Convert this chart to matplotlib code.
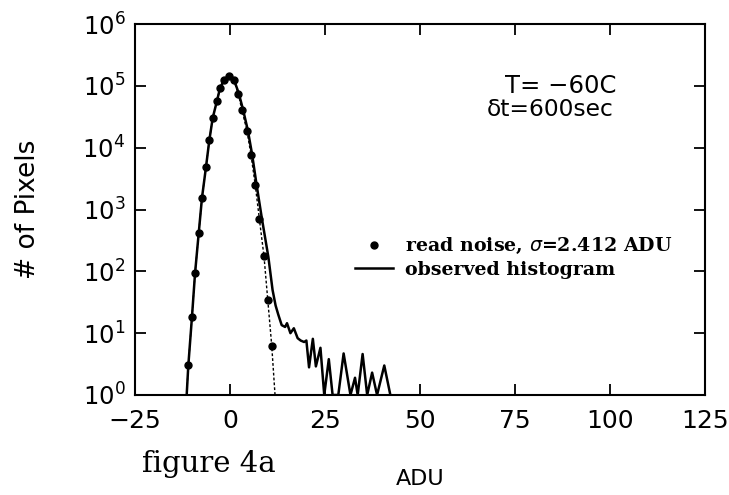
import numpy as np
import matplotlib.pyplot as plt
from matplotlib.ticker import LogLocator, NullLocator, FixedLocator

# read-noise points (gaussian, sigma = 2.412 ADU)
noise_adu = [-10.97, -10.0, -9.2, -8.23, -7.37, -6.31, -5.44, -4.55, -3.42, -2.6, -1.5,
             -0.34, 0.98, 2.19, 3.16, 4.48, 5.53, 6.66, 7.72, 8.95, 9.93, 10.98]
noise_counts = [3.0, 18.6, 93, 417, 1550, 4900, 13200, 30200, 57500, 93000, 126000,
                145000, 126000, 74000, 40000, 18600, 7600, 2450, 710, 174, 35, 6.3]
# where the dashed fit line meets the bottom of the plot
fit_end_adu = [-11.4, 11.85]
fit_end_counts = [1.0, 1.0]

# observed histogram
hist_adu = [-11.4, -10.97, -10.0, -9.2, -8.23, -7.37, -6.31, -5.44, -4.55, -3.42, -2.6,
            -1.5, -0.34, 0.98, 2.3, 3.4, 4.7, 5.8, 7.0, 8.4, 10.1, 11.2, 12.0, 12.7,
            13.6, 14.5, 15.0, 15.9, 16.8, 17.8, 18.6, 19.5, 20.1, 20.8, 21.8, 22.6,
            23.8, 24.8, 26.0, 27.0, 28.5, 29.9, 31.7, 32.9, 33.6, 34.9, 36.1, 37.4,
            38.7, 40.6, 42.2]
hist_counts = [1, 3.0, 18.6, 93, 417, 1550, 4900, 13200, 30200, 57500, 93000,
               126000, 145000, 129000, 76000, 42000, 19000, 7900, 2500, 710, 170, 50, 28, 20,
               13.5, 12.6, 14.5, 10, 12, 8.3, 7.6, 7.2, 7.6, 2.8, 8.1, 2.9,
               5.8, 1, 3.8, 1, 1, 4.7, 1, 1.9, 1, 4.6, 1, 2.3,
               1, 3.0, 1]

x_ticks = [-25, 0, 25, 50, 75, 100, 125]

fig = plt.figure(figsize=(7.29, 4.95), dpi=100)
ax = fig.add_axes([135 / 729, 1 - 395 / 495, 570 / 729, 371 / 495])

fit_x = [fit_end_adu[0]] + noise_adu + [fit_end_adu[1]]
fit_y = [fit_end_counts[0]] + noise_counts + [fit_end_counts[1]]
ax.plot(fit_x, fit_y, color='black', lw=1.0, linestyle=(0, (2.0, 1.5)), zorder=2)
ax.plot(hist_adu, hist_counts, color='black', lw=1.8, zorder=3,
        label='observed histogram')
ax.plot(noise_adu, noise_counts, 'o', color='black', markersize=5, zorder=4,
        label=r'read noise, $\sigma$=2.412 ADU')

ax.set_yscale('log')
ax.set_xlim(-25, 125)
ax.set_ylim(1, 1e6)
ax.xaxis.set_major_locator(FixedLocator(x_ticks))
ax.yaxis.set_major_locator(LogLocator(base=10, numticks=10))
ax.yaxis.set_minor_locator(NullLocator())

for s in ax.spines.values():
    s.set_linewidth(1.5)
ax.tick_params(which='major', direction='in', top=True, right=True,
               length=8, width=1.3, labelsize=17.5)
ax.tick_params(axis='x', pad=10, labelsize=18)
ax.tick_params(axis='y', pad=7)

ax.set_ylabel('# of Pixels', fontsize=19)
ax.yaxis.set_label_coords(-0.165, 0.5)
ax.set_xlabel('ADU', fontsize=16, labelpad=26)

ax.text((561 - 135) / 570, (395 - 86) / 371, 'T= −60C', transform=ax.transAxes,
        fontsize=17.5, ha='center', va='center')
ax.text((550 - 135) / 570, (395 - 109) / 371, 'δt=600sec', transform=ax.transAxes,
        fontsize=16.8, ha='center', va='center')

handles, labels = ax.get_legend_handles_labels()
ax.legend(handles[::-1], labels[::-1], loc='center left',
          bbox_to_anchor=(0.37, 0.37), frameon=False, handlelength=2.0,
          handletextpad=0.6, labelspacing=0.25, borderpad=0,
          prop={'family': 'DejaVu Serif', 'weight': 'bold', 'size': 13.7})

fig.text(142 / 729, 1 - 464 / 495, 'figure 4a', fontsize=21,
         family='DejaVu Serif', ha='left', va='center')

fig.savefig('out.png', dpi=100)
